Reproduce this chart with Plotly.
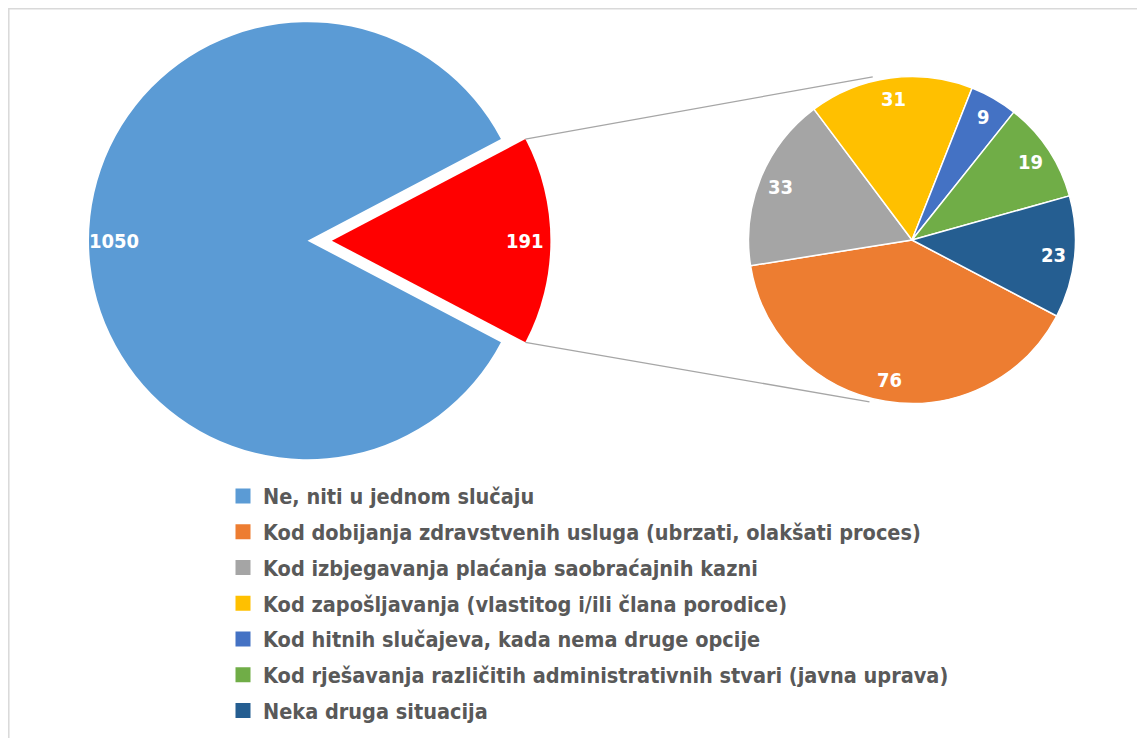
import math
import plotly.graph_objects as go

# page body has an 8px default margin; figure fills the rest of the 1145x738 window
OFF = 8
W, H = 1145 - OFF, 738 - OFF

# ---------------- data ----------------
main_labels = ["Ne, niti u jednom slučaju", "Da (raspodjela u desnom grafikonu)"]
main_values = [1050, 191]
main_colors = ["#5B9BD5", "#FF0000"]

sub_labels = [
    "Kod dobijanja zdravstvenih usluga (ubrzati, olakšati proces)",
    "Kod izbjegavanja plaćanja saobraćajnih kazni",
    "Kod zapošljavanja (vlastitog i/ili člana porodice)",
    "Kod hitnih slučajeva, kada nema druge opcije",
    "Kod rješavanja različitih administrativnih stvari (javna uprava)",
    "Neka druga situacija",
]
sub_values = [76, 33, 31, 9, 19, 23]
sub_colors = ["#ED7D31", "#A5A5A5", "#FFC000", "#4472C4", "#70AD47", "#255E91"]

# ---------------- geometry (screen pixels) ----------------
L_CX, L_CY, L_R = 307.5, 240.7, 218.5
PULL_PX = 24.4
R_CX, R_CY, R_R = 912.0, 240.0, 163.5
LABEL_FRAC_MAIN = 0.885
LABEL_FRAC_SUB = 0.868
FONT = "DejaVu Sans Condensed, Liberation Sans Narrow, Arial Narrow, sans-serif"
TRANSP = "rgba(0,0,0,0)"

total_main = sum(main_values)
# first slice starts so that the second (exploded) slice is centred on 3 o'clock
rot = 90 + 360 * main_values[1] / total_main / 2


def px2paper(x, y):
    return (x - OFF) / W, 1 - (y - OFF) / H


def dom(cx, cy, r):
    x0, y1 = px2paper(cx - r, cy - r)
    x1, y0 = px2paper(cx + r, cy + r)
    return dict(x=[x0, x1], y=[y0, y1])


def polar(cx, cy, r, clock_deg):
    a = math.radians(clock_deg)
    return cx + r * math.sin(a), cy - r * math.cos(a)


def mid_angles(values, rotation):
    tot = sum(values)
    out, cum = [], 0
    for v in values:
        out.append(rotation + 360 * (cum + v / 2) / tot)
        cum += v
    return out


main_mid = mid_angles(main_values, rot)
red_dx, red_dy = polar(0, 0, PULL_PX, main_mid[1])
RED_CX, RED_CY = L_CX + red_dx, L_CY + red_dy

fig = go.Figure()

# main pie: blue part
fig.add_trace(go.Pie(
    labels=main_labels, values=main_values, sort=False, direction="clockwise",
    rotation=rot, marker=dict(colors=[main_colors[0], TRANSP], line=dict(width=0)),
    textinfo="none", domain=dom(L_CX, L_CY, L_R), showlegend=False,
))
# main pie: exploded red part
fig.add_trace(go.Pie(
    labels=main_labels, values=main_values, sort=False, direction="clockwise",
    rotation=rot, marker=dict(colors=[TRANSP, main_colors[1]], line=dict(width=0)),
    textinfo="none", domain=dom(RED_CX, RED_CY, L_R), showlegend=False,
))
# secondary pie
fig.add_trace(go.Pie(
    labels=sub_labels, values=sub_values, sort=False, direction="clockwise",
    rotation=rot, marker=dict(colors=sub_colors, line=dict(color="white", width=1.5)),
    textinfo="none", domain=dom(R_CX, R_CY, R_R), showlegend=False,
))

# legend entries
leg_labels = [main_labels[0]] + sub_labels
leg_colors = [main_colors[0]] + sub_colors
for i, (lab, col) in enumerate(zip(leg_labels, leg_colors)):
    fig.add_trace(go.Scatter(
        x=[None], y=[None], mode="markers", name=lab, legendgroup=f"g{i}",
        marker=dict(symbol="square", size=15, color=col),
    ))

annotations = []
centers = [(L_CX, L_CY), (RED_CX, RED_CY)]
for v, ang, (cx, cy) in zip(main_values, main_mid, centers):
    x, y = polar(cx, cy, LABEL_FRAC_MAIN * L_R, ang)
    px, py = px2paper(x, y)
    annotations.append(dict(x=px, y=py, xref="paper", yref="paper", text=str(v),
                            showarrow=False,
                            font=dict(family=FONT, size=20, color="white", weight="bold"),
                            xanchor="center", yanchor="middle"))
for v, ang in zip(sub_values, mid_angles(sub_values, rot)):
    x, y = polar(R_CX, R_CY, LABEL_FRAC_SUB * R_R, ang)
    px, py = px2paper(x, y)
    annotations.append(dict(x=px, y=py, xref="paper", yref="paper", text=str(v),
                            showarrow=False,
                            font=dict(family=FONT, size=20, color="white", weight="bold"),
                            xanchor="center", yanchor="middle"))

# connector lines from exploded slice corners to the secondary pie
red_start = rot + 360 * main_values[0] / total_main
red_end = rot + 360
c1 = polar(RED_CX, RED_CY, L_R, red_start)
c2 = polar(RED_CX, RED_CY, L_R, red_end)
e1 = (R_CX - 0.24 * R_R, R_CY - 0.998 * R_R)
e2 = (R_CX - 0.26 * R_R, R_CY + 0.99 * R_R)
shapes = []
for (sx, sy), (ex, ey) in [(c1, e1), (c2, e2)]:
    x0, y0 = px2paper(sx, sy)
    x1, y1 = px2paper(ex, ey)
    shapes.append(dict(type="line", xref="paper", yref="paper", x0=x0, y0=y0, x1=x1, y1=y1,
                       line=dict(color="#A6A6A6", width=1.3)))
# chart-area border (extends beyond the visible window on right/bottom)
bx0, by0 = px2paper(8.8, 8.8)
bx1, by1 = px2paper(1145 + 20, 738 + 20)
shapes.append(dict(type="rect", xref="paper", yref="paper", x0=bx0, y0=by0, x1=bx1, y1=by1,
                   line=dict(color="#D9D9D9", width=1.5), fillcolor="rgba(0,0,0,0)"))

lx, ly = px2paper(223, 475.5)
fig.update_layout(
    width=W, height=H, margin=dict(l=0, r=0, t=0, b=0),
    paper_bgcolor="white", plot_bgcolor="white",
    xaxis=dict(visible=False), yaxis=dict(visible=False),
    showlegend=True,
    legend=dict(x=lx, y=ly, xanchor="left", yanchor="top", traceorder="grouped",
                tracegroupgap=4.8,
                font=dict(family=FONT, size=21.5, color="#595959", weight="bold"),
                bgcolor="rgba(0,0,0,0)", itemclick=False, itemdoubleclick=False),
    annotations=annotations, shapes=shapes,
)

fig.write_html("out.html")
